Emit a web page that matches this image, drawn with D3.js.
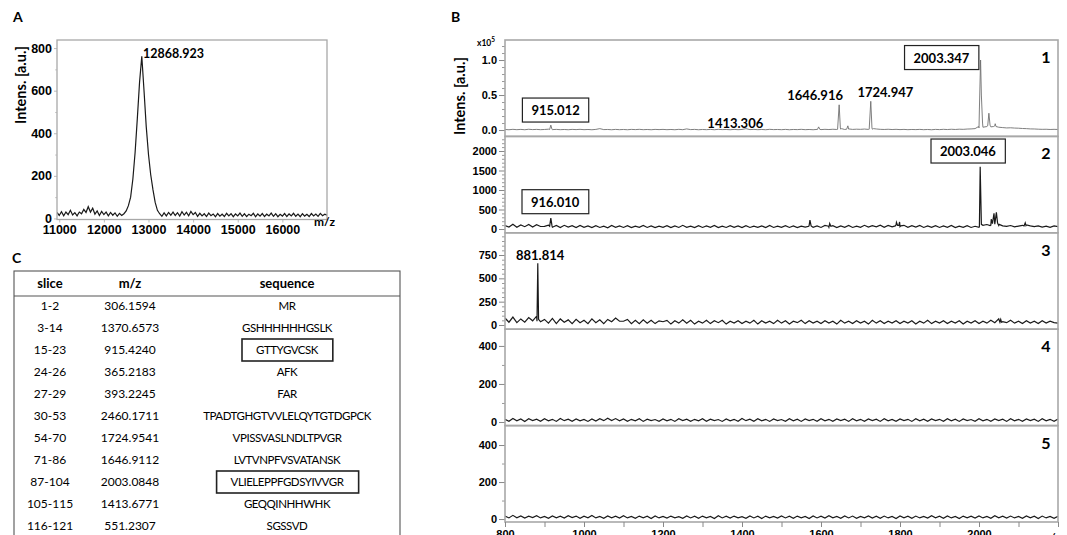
<!DOCTYPE html>
<html>
<head>
<meta charset="utf-8">
<script src="https://cdn.jsdelivr.net/npm/d3@7"></script>
<style>
  body { margin: 0; background: #fff; }
  svg { display: block; font-family: Lato, 'Open Sans', sans-serif; }
  .tick text { font-weight: 700; fill: #000; }
</style>
</head>
<body>
<script>
const W = 1067, H = 535;

// ---------- panel A: intact protein spectrum ----------
const specAStart = 10950, specAStep = 50;
const specA = [
  28, 14, 32, 12, 30, 18, 38, 16, 27, 12,
  30, 22, 42, 28, 55, 30, 48, 20, 35, 14,
  33, 18, 30, 12, 28, 15, 26, 10, 24, 14,
  22, 35, 60, 100, 185, 310, 470, 640, 762, 600,
  430, 300, 205, 135, 75, 38, 22, 10, 26, 12,
  28, 15, 30, 14, 27, 11, 32, 16, 29, 12,
  33, 18, 28, 10, 24, 12, 22, 9, 25, 13,
  21, 8, 23, 11, 20, 9, 24, 12, 22, 8,
  21, 12, 25, 10, 22, 9, 20, 13, 24, 8,
  21, 11, 23, 9, 20, 12, 25, 10, 22, 8,
  19, 11, 23, 9, 21, 12, 24, 10, 20, 8,
  22, 11, 19, 9, 23, 12, 21, 10, 24, 13,
  20, 15
];
const ticksAX = [11000, 12000, 13000, 14000, 15000, 16000];
const ticksAY = [0, 200, 400, 600, 800];
const minorAY = [100, 300, 500, 700];
const peakLabelA = { text: '12868.923', mz: 12877, v: 754 };

// ---------- panel B: peptide spectra of 5 slices ----------
const mzStart = 800, mzStep = 10;
const base1 = [
  0.008, 0.004, 0.010, 0.005, 0.009, 0.004, 0.011, 0.006, 0.009, 0.005,
  0.008, 0.012, 0.006, 0.009, 0.005, 0.008, 0.004, 0.009, 0.006, 0.010,
  0.005, 0.008, 0.004, 0.009, 0.020, 0.006, 0.008, 0.004, 0.009, 0.005,
  0.008, 0.004, 0.009, 0.006, 0.010, 0.005, 0.008, 0.004, 0.009, 0.006,
  0.009, 0.005, 0.008, 0.004, 0.010, 0.005, 0.016, 0.006, 0.009, 0.004,
  0.008, 0.005, 0.009, 0.004, 0.010, 0.006, 0.008, 0.004, 0.009, 0.005,
  0.008, 0.020, 0.006, 0.009, 0.005, 0.008, 0.004, 0.010, 0.006, 0.008,
  0.005, 0.009, 0.004, 0.008, 0.006, 0.010, 0.005, 0.008, 0.004, 0.009,
  0.006, 0.010, 0.007, 0.011, 0.008, 0.012, 0.008, 0.013, 0.009, 0.012,
  0.010, 0.014, 0.009, 0.012, 0.015, 0.010, 0.008, 0.011, 0.007, 0.010,
  0.006, 0.009, 0.005, 0.008, 0.006, 0.009, 0.005, 0.008, 0.004, 0.009,
  0.006, 0.010, 0.007, 0.011, 0.008, 0.012, 0.010, 0.014, 0.016, 0.020,
  0.030, 0.040, 0.050, 0.045, 0.060, 0.040, 0.035, 0.030, 0.032, 0.028,
  0.026, 0.022, 0.020, 0.016, 0.015, 0.012, 0.010, 0.011, 0.008, 0.010,
  0.008
];
const base2 = [
  90, 50, 120, 45, 105, 60, 115, 50, 110, 65,
  70, 100, 45, 90, 40, 95, 50, 85, 35, 90,
  45, 80, 35, 85, 40, 75, 30, 90, 45, 80,
  40, 85, 35, 75, 45, 90, 40, 80, 35, 75,
  45, 85, 35, 80, 40, 95, 45, 75, 35, 85,
  40, 80, 45, 90, 35, 75, 40, 85, 45, 80,
  35, 85, 40, 75, 45, 80, 35, 90, 40, 75,
  45, 85, 40, 80, 35, 75, 50, 95, 45, 80,
  40, 90, 45, 85, 35, 80, 45, 90, 40, 75,
  45, 95, 50, 85, 55, 100, 45, 90, 55, 105,
  60, 95, 45, 85, 50, 90, 40, 80, 45, 85,
  40, 80, 45, 90, 35, 75, 45, 85, 40, 70,
  45, 95, 115, 100, 125, 90, 80, 70, 90, 55,
  75, 95, 105, 80, 60, 80, 50, 75, 45, 80,
  60
];
const base3 = [
  75, 30, 85, 25, 65, 30, 80, 45, 95, 35,
  60, 20, 70, 15, 65, 30, 55, 15, 60, 25,
  50, 15, 65, 25, 55, 15, 60, 35, 75, 40,
  40, 60, 15, 50, 15, 55, 20, 50, 15, 45,
  35, 50, 10, 45, 20, 55, 20, 50, 10, 40,
  20, 50, 15, 45, 25, 50, 10, 40, 20, 45,
  15, 40, 20, 50, 10, 45, 20, 40, 15, 50,
  20, 45, 10, 40, 25, 50, 15, 45, 20, 40,
  15, 45, 20, 40, 10, 50, 20, 40, 15, 45,
  20, 40, 10, 50, 20, 45, 15, 40, 20, 45,
  15, 40, 20, 45, 10, 40, 20, 50, 15, 40,
  20, 45, 15, 40, 20, 45, 10, 40, 20, 45,
  15, 40, 20, 50, 25, 65, 35, 25, 50, 20,
  40, 15, 45, 20, 40, 15, 45, 20, 40, 25,
  20
];
const base4 = [
  14, 4, 18, 6, 16, 3, 17, 7, 15, 4,
  17, 6, 14, 3, 18, 7, 15, 4, 16, 6,
  13, 3, 16, 5, 17, 7, 20, 8, 18, 6,
  16, 4, 14, 6, 17, 3, 15, 7, 13, 4,
  16, 6, 14, 3, 17, 7, 15, 4, 14, 6,
  17, 4, 15, 7, 13, 3, 16, 6, 14, 4,
  18, 7, 15, 4, 17, 6, 14, 3, 16, 7,
  13, 4, 17, 6, 15, 3, 16, 7, 14, 4,
  17, 6, 14, 4, 16, 7, 15, 3, 17, 6,
  14, 4, 16, 7, 15, 3, 17, 6, 13, 4,
  16, 7, 14, 3, 17, 6, 15, 4, 16, 7,
  14, 4, 17, 6, 15, 3, 16, 7, 13, 4,
  17, 6, 14, 4, 16, 7, 15, 3, 17, 6,
  14, 4, 16, 7, 15, 3, 17, 6, 14, 4,
  16
];
const base5 = [
  16, 6, 20, 7, 17, 5, 15, 8, 18, 6,
  14, 4, 17, 7, 15, 5, 18, 8, 16, 4,
  15, 7, 19, 6, 14, 4, 17, 7, 15, 5,
  18, 6, 14, 4, 16, 7, 15, 3, 17, 6,
  14, 5, 16, 7, 13, 4, 17, 6, 15, 4,
  16, 7, 14, 3, 18, 6, 15, 5, 16, 7,
  13, 4, 17, 6, 15, 3, 16, 7, 14, 5,
  17, 6, 15, 4, 16, 7, 14, 3, 17, 6,
  15, 5, 18, 7, 14, 4, 17, 6, 16, 4,
  14, 7, 17, 5, 15, 4, 16, 6, 14, 3,
  17, 7, 15, 4, 16, 6, 14, 5, 18, 7,
  15, 4, 17, 6, 14, 3, 16, 7, 15, 5,
  17, 6, 14, 4, 18, 7, 15, 5, 16, 6,
  14, 4, 17, 7, 15, 3, 16, 6, 14, 4,
  15
];
// sharp peaks as [m/z, intensity]
const peaks1 = [
  [913, 0.008], [916, 0.07], [919, 0.01],
  [1591, 0.008], [1594, 0.045], [1597, 0.01],
  [1642, 0.01], [1646, 0.36], [1649, 0.03], [1652, 0.02],
  [1665, 0.012], [1668, 0.06], [1671, 0.015],
  [1722, 0.012], [1726, 0.41], [1729, 0.03], [1733, 0.02],
  [1999, 0.05], [2001, 0.3], [2004, 1.0], [2006, 0.5], [2009, 0.1],
  [2022, 0.06], [2025, 0.24], [2028, 0.07],
  [2037, 0.05], [2041, 0.09], [2043, 0.05]
];
const peaks2 = [
  [913, 70], [916, 280], [919, 80],
  [1569, 70], [1572, 230], [1575, 80],
  [1619, 70], [1622, 140], [1625, 70],
  [1788, 80], [1791, 170], [1794, 90],
  [1797, 90], [1799, 180], [1802, 80],
  [2001, 60], [2003, 1598], [2006, 120],
  [2028, 90], [2031, 250], [2034, 140], [2038, 400], [2041, 200],
  [2044, 430], [2047, 150], [2051, 120],
  [2114, 80], [2117, 160], [2119, 90]
];
const peaks3 = [
  [881, 40], [883, 662], [885, 60],
  [2053, 30], [2055, 60], [2057, 30]
];
const peaks4 = [];
const peaks5 = [];

const yDomainsB = [[-0.091, 1.286], [-97, 2374], [-45, 988], [-19, 488], [-16, 505]];
const majorsB = [[0, 0.5, 1.0], [0, 500, 1000, 1500, 2000], [0, 250, 500, 750], [0, 200, 400], [0, 200, 400]];
const minorsB = [
  [0.1, 0.2, 0.3, 0.4, 0.6, 0.7, 0.8, 0.9, 1.1, 1.2],
  [100, 200, 300, 400, 600, 700, 800, 900, 1100, 1200, 1300, 1400, 1600, 1700, 1800, 1900, 2100, 2200, 2300],
  [50, 100, 150, 200, 300, 350, 400, 450, 550, 600, 650, 700, 800, 850, 900, 950],
  [100, 300],
  [100, 300]
];
const panelNames = ['1', '2', '3', '4', '5'];
const ticksBX = [800, 900, 1000, 1100, 1200, 1300, 1400, 1500, 1600, 1700, 1800, 1900, 2000, 2100, 2200];
const labelsBX = [800, 1000, 1200, 1400, 1600, 1800, 2000];
const annB = [
  { panel: 0, text: '2003.347', mz: 1905, v: 0.964, box: true },
  { panel: 0, text: '915.012', mz: 928, v: 0.214, box: true },
  { panel: 0, text: '1413.306', mz: 1383, v: 0.029, box: false },
  { panel: 0, text: '1646.916', mz: 1585, v: 0.436, box: false },
  { panel: 0, text: '1724.947', mz: 1763, v: 0.471, box: false },
  { panel: 1, text: '2003.046', mz: 1972, v: 1871, box: true },
  { panel: 1, text: '916.010', mz: 927, v: 572, box: true },
  { panel: 2, text: '881.814', mz: 889, v: 697, box: false }
];

// ---------- panel C: digest table ----------
const tblHead = ['slice', 'm/z', 'sequence'];
const tblSlice = ['1-2', '3-14', '15-23', '24-26', '27-29', '30-53', '54-70', '71-86', '87-104', '105-115', '116-121'];
const tblMz = ['306.1594', '1370.6573', '915.4240', '365.2183', '393.2245', '2460.1711', '1724.9541', '1646.9112', '2003.0848', '1413.6771', '551.2307'];
const tblSeq = ['MR', 'GSHHHHHHGSLK', 'GTTYGVCSK', 'AFK', 'FAR', 'TPADTGHGTVVLELQYTGTDGPCK', 'VPISSVASLNDLTPVGR', 'LVTVNPFVSVATANSK', 'VLIELEPPFGDSYIVVGR', 'GEQQINHHWHK', 'SGSSVD'];
const tblBoxed = ['GTTYGVCSK', 'VLIELEPPFGDSYIVVGR'];

const svg = d3.select('body').append('svg').attr('width', W).attr('height', H);
const frameCol = '#a8a8a8';

function panelLetter(x, y, t) {
  svg.append('text').attr('x', x).attr('y', y).text(t)
    .attr('font-size', 14).attr('font-weight', 700);
}

// ================= A =================
panelLetter(13, 22, 'A');
const xA = d3.scaleLinear().domain([10950, 17000]).range([57, 327]);
const yA = d3.scaleLinear().domain([-5, 838]).range([219.5, 40]);
const gA = svg.append('g');

gA.append('g').attr('transform', 'translate(57,0)')
  .call(d3.axisLeft(yA).tickValues(minorAY).tickSize(2).tickFormat(''))
  .call(g => g.select('.domain').remove())
  .call(g => g.selectAll('line').attr('stroke', '#ccc'));
gA.append('g').attr('transform', 'translate(57,0)')
  .call(d3.axisLeft(yA).tickValues(ticksAY).tickSize(3).tickPadding(2))
  .call(g => g.select('.domain').remove())
  .call(g => g.selectAll('line').attr('stroke', '#bbb'))
  .call(g => g.selectAll('text').attr('font-size', 12.5).attr('font-family', null));
gA.append('g').attr('transform', 'translate(0,219.5)')
  .call(d3.axisBottom(xA).tickValues(ticksAX).tickSize(3).tickPadding(3).tickFormat(d3.format('d')))
  .call(g => g.select('.domain').remove())
  .call(g => g.selectAll('line').attr('stroke', '#bbb'))
  .call(g => g.selectAll('text').attr('font-size', 12.5).attr('font-family', null));

gA.append('clipPath').attr('id', 'clipA').append('rect')
  .attr('x', 57).attr('y', 40).attr('width', 270).attr('height', 179.5);
gA.append('path').datum(specA)
  .attr('clip-path', 'url(#clipA)')
  .attr('fill', 'none').attr('stroke', '#1a1a1a').attr('stroke-width', 1.2)
  .attr('d', d3.line().x((d, i) => xA(specAStart + i * specAStep)).y(d => yA(d)));
gA.append('rect').attr('x', 57).attr('y', 40).attr('width', 270).attr('height', 179.5)
  .attr('fill', 'none').attr('stroke', frameCol).attr('stroke-width', 1.3);

gA.append('text').attr('x', xA(peakLabelA.mz)).attr('y', yA(peakLabelA.v))
  .attr('font-size', 12.5).attr('font-weight', 700).text(peakLabelA.text);
gA.append('text').attr('x', 314).attr('y', 226)
  .attr('font-size', 12).attr('font-weight', 700).text('m/z');
gA.append('text').attr('transform', 'translate(26,85) rotate(-90)')
  .attr('text-anchor', 'middle').attr('font-size', 14.5).attr('font-weight', 700)
  .text('Intens. [a.u.]');

// ================= B =================
panelLetter(451, 22, 'B');
const bLeft = 505, bRight = 1058, bTop = 40, ph = 96.4;
const xB = d3.scaleLinear().domain([800, 2200]).range([bLeft, bRight]);
const basesB = [base1, base2, base3, base4, base5];
const peaksB = [peaks1, peaks2, peaks3, peaks4, peaks5];
const gB = svg.append('g');
const yB = [];

basesB.forEach((base, p) => {
  const top = bTop + p * ph, bot = top + ph;
  const y = d3.scaleLinear().domain(yDomainsB[p]).range([bot, top]);
  yB.push(y);
  const g = gB.append('g');

  g.append('g').attr('transform', `translate(${bLeft},0)`)
    .call(d3.axisLeft(y).tickValues(minorsB[p]).tickSize(3).tickFormat(''))
    .call(a => a.select('.domain').remove())
    .call(a => a.selectAll('line').attr('stroke', '#999'));
  g.append('g').attr('transform', `translate(${bLeft},0)`)
    .call(d3.axisLeft(y).tickValues(majorsB[p]).tickSize(6).tickPadding(2)
      .tickFormat(p === 0 ? d3.format('.1f') : d3.format('d')))
    .call(a => a.select('.domain').remove())
    .call(a => a.selectAll('line').attr('stroke', '#888'))
    .call(a => a.selectAll('text').attr('font-size', 11).attr('font-family', null));

  const pts = base.map((v, i) => [mzStart + i * mzStep, v])
    .concat(peaksB[p]).sort((a, b) => a[0] - b[0]);
  g.append('clipPath').attr('id', 'clipB' + p).append('rect')
    .attr('x', bLeft).attr('y', top).attr('width', bRight - bLeft).attr('height', ph);
  g.append('path').datum(pts)
    .attr('clip-path', `url(#clipB${p})`)
    .attr('fill', 'none')
    .attr('stroke', p === 0 ? '#707070' : '#1a1a1a')
    .attr('stroke-width', p === 0 ? 0.9 : 1.2)
    .attr('d', d3.line().x(d => xB(d[0])).y(d => y(d[1])));

  g.append('rect').attr('x', bLeft).attr('y', top).attr('width', bRight - bLeft).attr('height', ph)
    .attr('fill', 'none').attr('stroke', frameCol).attr('stroke-width', 1.6);

  g.append('text').attr('x', 1046).attr('y', top + 23).attr('text-anchor', 'middle')
    .attr('font-size', 16).attr('font-weight', 700).text(panelNames[p]);
});

// x10^5 multiplier
const mult = gB.append('text').attr('x', 477).attr('y', 46).attr('font-size', 8.5).attr('font-weight', 700);
mult.append('tspan').text('x10');
mult.append('tspan').attr('dy', -4).attr('font-size', 6.5).text('5');

// bottom axis
gB.append('g').attr('transform', `translate(0,${bTop + 5 * ph})`)
  .call(d3.axisBottom(xB).tickValues(ticksBX).tickSize(5).tickPadding(3)
    .tickFormat(d => labelsBX.includes(d) ? d : ''))
  .call(a => a.select('.domain').remove())
  .call(a => a.selectAll('line').attr('stroke', '#888'))
  .call(a => a.selectAll('text').attr('font-size', 11).attr('font-family', null));
gB.append('text').attr('x', 1040).attr('y', 542).attr('font-size', 12).attr('font-weight', 700).text('m/z');

gB.append('text').attr('transform', 'translate(465,96) rotate(-90)')
  .attr('text-anchor', 'middle').attr('font-size', 14.5).attr('font-weight', 700)
  .text('Intens. [a.u.]');

// annotations
annB.forEach(a => {
  const t = gB.append('text')
    .attr('x', xB(a.mz)).attr('y', yB[a.panel](a.v))
    .attr('text-anchor', 'middle').attr('font-size', 13).attr('font-weight', 700)
    .text(a.text);
  if (a.box) {
    const bb = t.node().getBBox();
    gB.insert('rect', () => t.node())
      .attr('x', bb.x - 9).attr('y', yB[a.panel](a.v) - 17)
      .attr('width', bb.width + 18).attr('height', 24)
      .attr('fill', '#fff').attr('stroke', '#222').attr('stroke-width', 1.2);
  }
});

// ================= C =================
panelLetter(12, 263, 'C');
const gC = svg.append('g');
const colX = d3.scaleOrdinal().domain(tblHead).range([50, 130, 287]);
const rowY = d3.scaleBand().domain(d3.range(tblSlice.length)).range([295, 295 + 22 * tblSlice.length]);

gC.append('rect').attr('x', 14).attr('y', 271).attr('width', 386).attr('height', 300)
  .attr('fill', 'none').attr('stroke', '#555').attr('stroke-width', 1.1);
gC.append('line').attr('x1', 14).attr('x2', 400).attr('y1', 296).attr('y2', 296)
  .attr('stroke', '#555').attr('stroke-width', 1.1);

gC.selectAll('.hd').data(tblHead).join('text')
  .attr('x', d => colX(d)).attr('y', 288).attr('text-anchor', 'middle')
  .attr('font-size', 13).attr('font-weight', 700).text(d => d);

const cols = [tblSlice, tblMz, tblSeq];
cols.forEach((col, c) => {
  gC.selectAll('.c' + c).data(col).join('text')
    .attr('x', colX(tblHead[c]))
    .attr('y', (d, i) => rowY(i) + rowY.bandwidth() / 2)
    .attr('dy', '0.36em').attr('text-anchor', 'middle')
    .attr('font-size', c === 2 ? 11.5 : 12)
    .attr('letter-spacing', c === 2 ? -0.45 : 0)
    .text(d => d)
    .each(function (d, i) {
      if (c === 2 && tblBoxed.includes(d)) {
        const bb = this.getBBox();
        gC.append('rect').attr('x', bb.x - 14).attr('y', rowY(i) + rowY.bandwidth() / 2 - 11)
          .attr('width', bb.width + 28).attr('height', 22)
          .attr('fill', 'none').attr('stroke', '#222').attr('stroke-width', 1.6);
      }
    });
});
</script>
</body>
</html>
